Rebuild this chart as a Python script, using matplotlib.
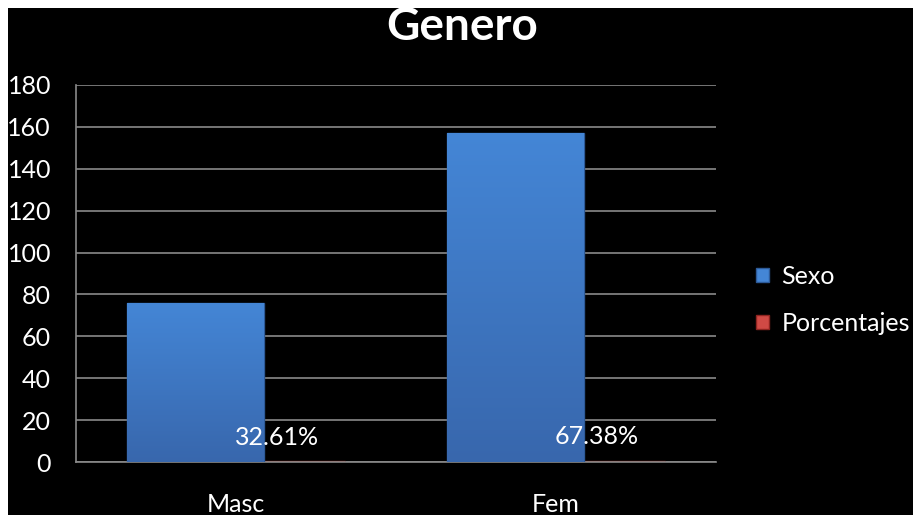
import numpy as np
import matplotlib
matplotlib.use('Agg')
import matplotlib.pyplot as plt
from matplotlib.patches import Rectangle
from matplotlib.colors import LinearSegmentedColormap

plt.rcParams['font.family'] = ['Lato', 'DejaVu Sans']

# datos
categorias = ['Masc', 'Fem']
sexo = [76, 157]
porcentajes = [0.3261, 0.6738]
etiquetas = ['32.61%', '67.38%']
yticks = [0, 20, 40, 60, 80, 100, 120, 140, 160, 180]

W, H = 913, 520
fig = plt.figure(figsize=(W / 100, H / 100), dpi=100, facecolor='white')
# fondo negro con borde blanco arriba/izquierda/abajo
fig.patches.append(Rectangle((8 / W, 5 / H), 1 - 8 / W, 1 - 13 / H,
                             transform=fig.transFigure, facecolor='black',
                             edgecolor='none', zorder=-1))

ax = fig.add_axes([76 / W, 58 / H, 640 / W, 377 / H])
ax.set_facecolor('black')

x = np.arange(len(categorias))
ancho = 0.428
desp = 0.128

cmap_azul = LinearSegmentedColormap.from_list('azul', ['#3867ad', '#4486d6'])
cmap_rojo = LinearSegmentedColormap.from_list('rojo', ['#8e2420', '#c8413a'])


def barras_degradado(xs, vals, cmap, edge, z):
    bars = ax.bar(xs, vals, width=ancho, color=cmap(0.6), edgecolor=edge,
                  linewidth=1, zorder=z)
    grad = np.linspace(0, 1, 256).reshape(-1, 1)
    for b in bars:
        bx, by = b.get_x(), b.get_y()
        bw, bh = b.get_width(), b.get_height()
        im = ax.imshow(grad, cmap=cmap, origin='lower', aspect='auto',
                       extent=[bx, bx + bw, by, by + bh], zorder=z + 0.1)
        im.set_clip_path(b)
    return bars


rojas = barras_degradado(x + desp, porcentajes, cmap_rojo, '#7a1c18', 2)
azules = barras_degradado(x - desp, sexo, cmap_azul, '#2d5a98', 3)

for b, txt in zip(rojas, etiquetas):
    ax.annotate(txt, (b.get_x() + b.get_width() / 2, b.get_height()),
                xytext=(0, 9), textcoords='offset points', ha='center',
                va='bottom', color='white', fontsize=18, zorder=5)

ax.set_xlim(-0.5, 1.5)
ax.set_ylim(0, 180)
ax.set_yticks(yticks)
ax.set_xticks(x)
ax.set_xticklabels(categorias)
ax.yaxis.grid(True, color='#8a8a8a', linewidth=1.2)
ax.set_axisbelow(True)
for s in ['top', 'right']:
    ax.spines[s].set_visible(False)
for s in ['left', 'bottom']:
    ax.spines[s].set_color('#8a8a8a')
    ax.spines[s].set_linewidth(1.2)
ax.tick_params(axis='y', length=0, pad=18, labelsize=18, labelcolor='white')
ax.tick_params(axis='x', length=0, pad=22, labelsize=18, labelcolor='white')

fig.text(462 / W, 1 - 27 / H, 'Genero', ha='center', va='center',
         color='white', fontsize=33, fontweight='bold')

h1 = Rectangle((0, 0), 1, 1, facecolor='#4486d6', edgecolor='#2d5a98')
h2 = Rectangle((0, 0), 1, 1, facecolor='#d04a45', edgecolor='#8e2420')
leg = ax.legend([h1, h2], ['Sexo', 'Porcentajes'], loc='center left',
                bbox_to_anchor=(1.028, 0.43), frameon=False, fontsize=18,
                labelcolor='white', handlelength=0.5, handleheight=0.5,
                handletextpad=0.5, labelspacing=0.95)

fig.savefig('out.png', dpi=100, facecolor='white')
